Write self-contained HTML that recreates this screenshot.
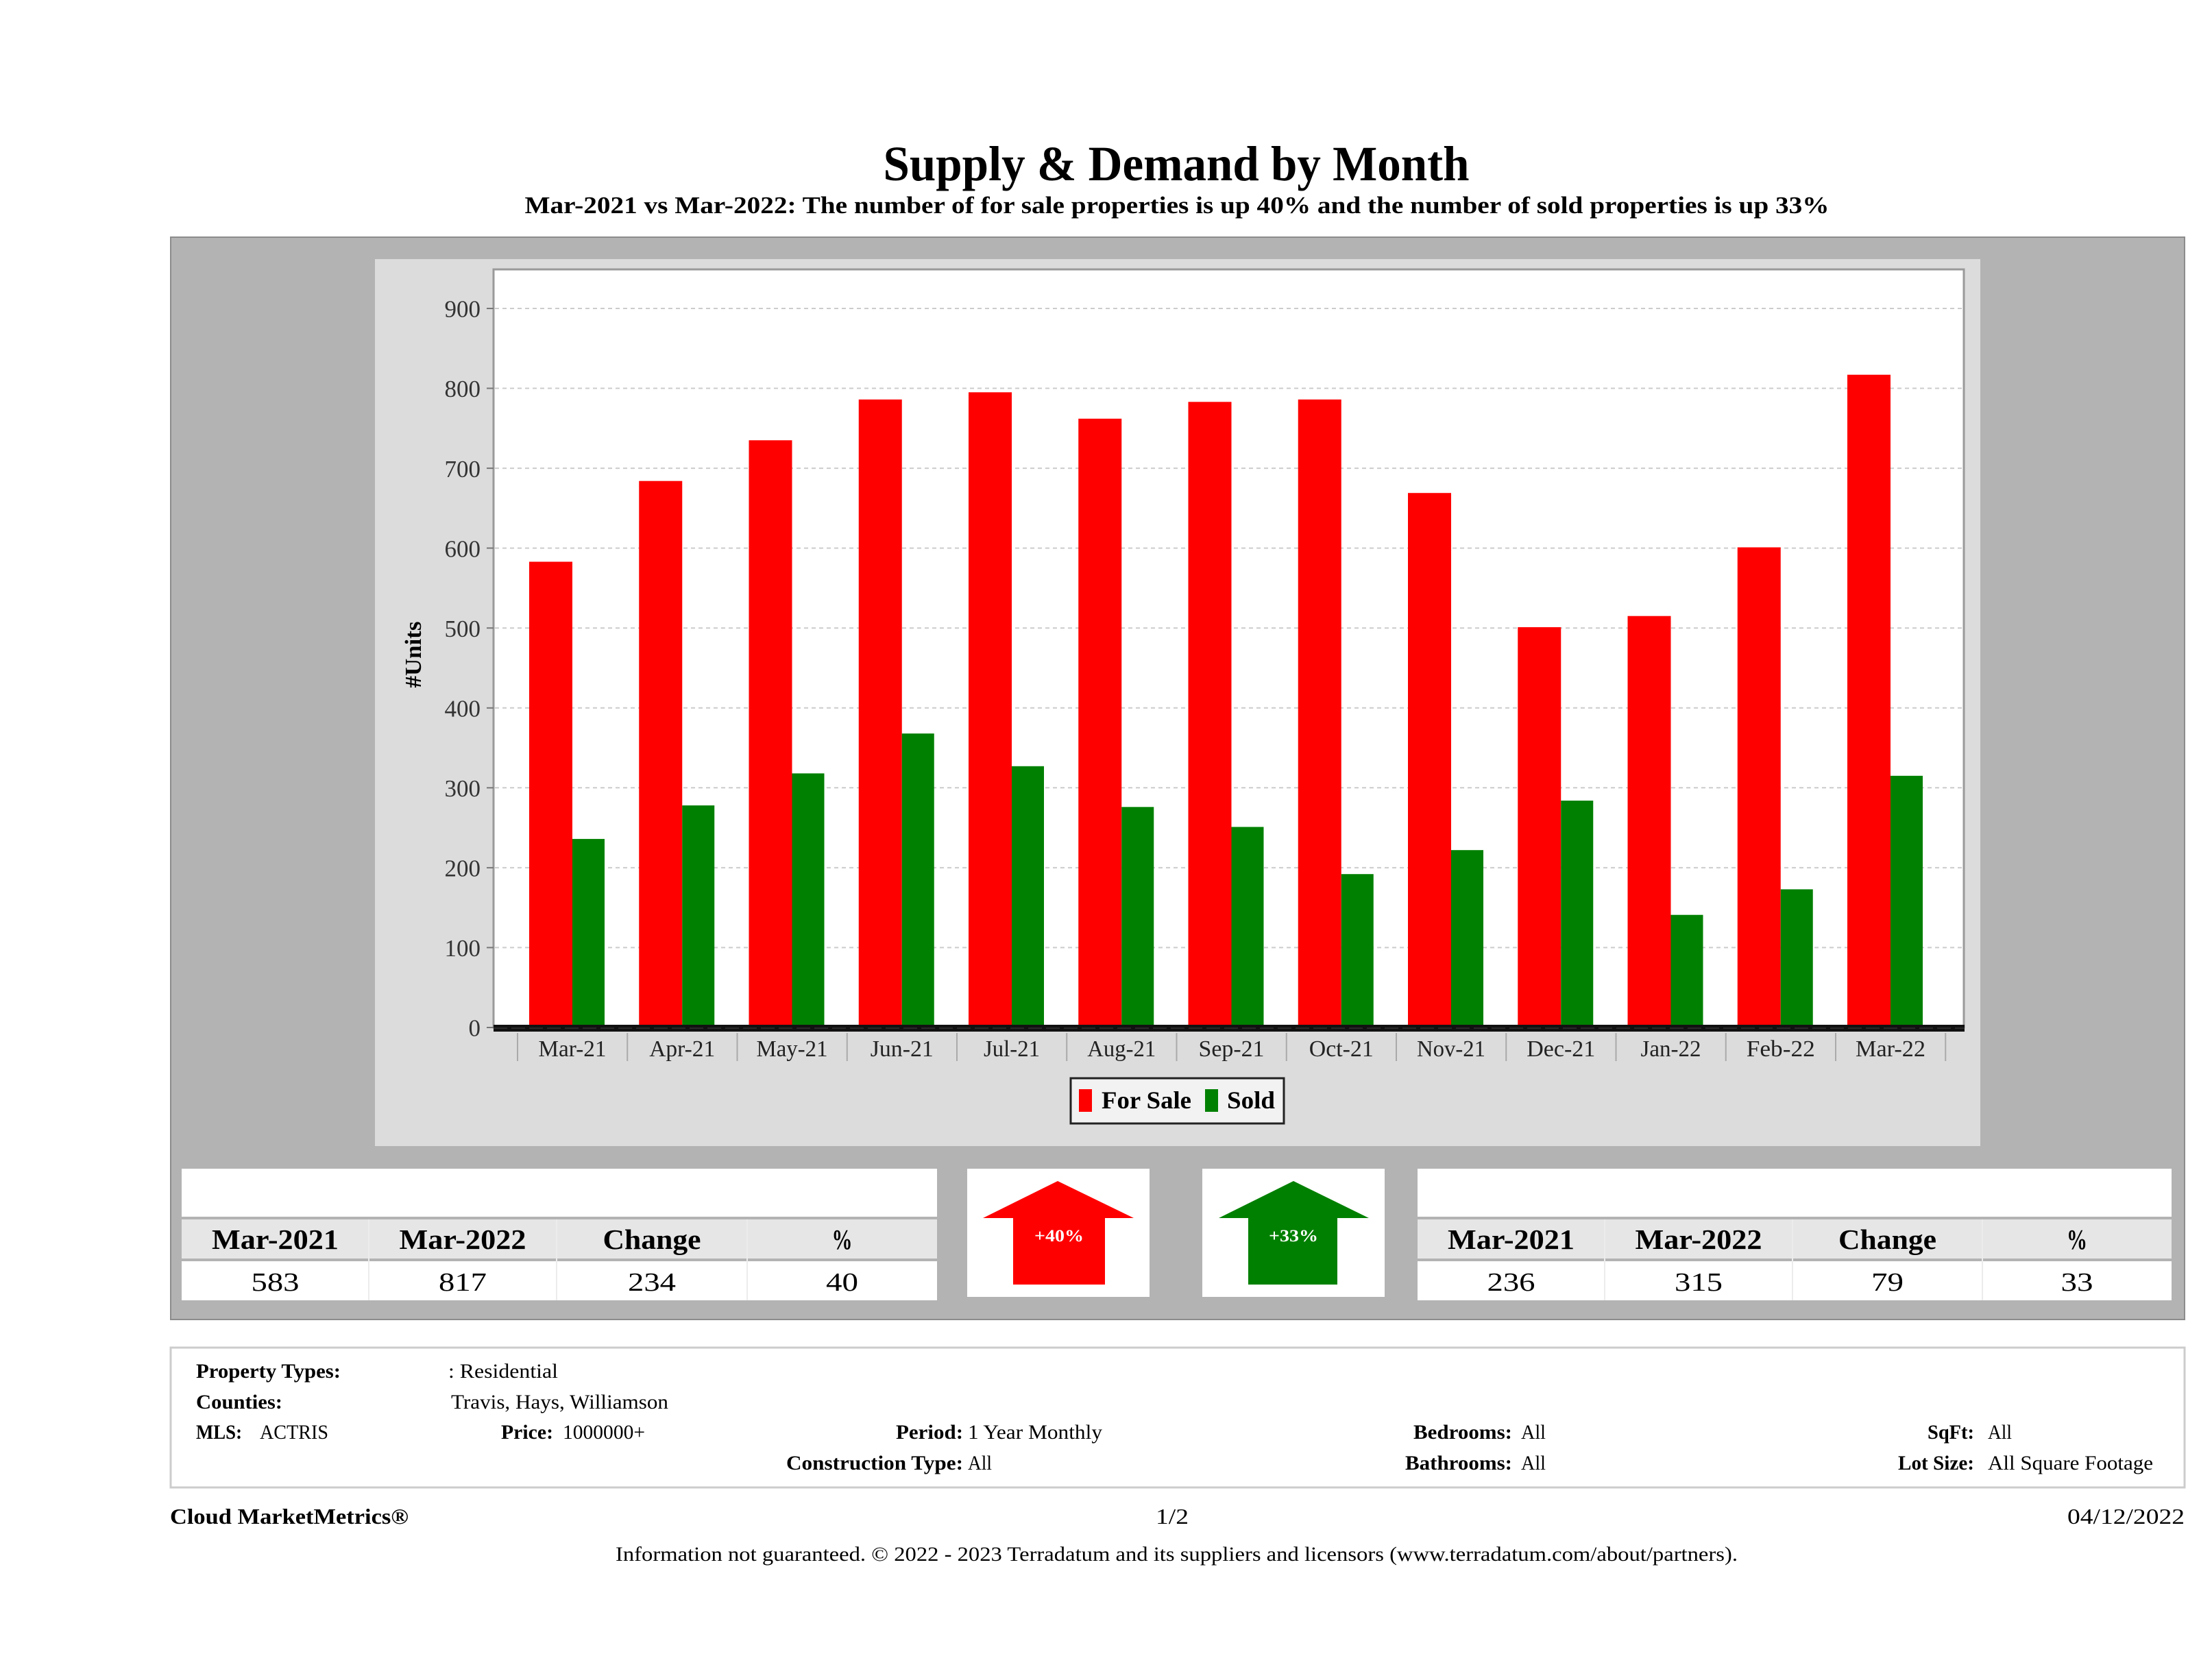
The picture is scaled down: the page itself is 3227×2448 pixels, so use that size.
<!DOCTYPE html>
<html><head><meta charset="utf-8"><style>
html,body{margin:0;padding:0;background:#fff;}
svg{display:block;}
text{font-family:"Liberation Serif","DejaVu Serif",serif;}
.b{font-weight:bold;}
.sans{font-family:"Liberation Sans","DejaVu Sans",sans-serif;}
</style></head><body>
<svg width="3227" height="2448" viewBox="0 0 3227 2448" xmlns="http://www.w3.org/2000/svg">
<rect x="0" y="0" width="3227" height="2448" fill="#fff"/>
<!-- Titles -->
<text x="1716" y="263" class="b" font-size="72" text-anchor="middle" textLength="855" lengthAdjust="spacingAndGlyphs" fill="#000">Supply &amp; Demand by Month</text>
<text x="1717" y="311" class="b" font-size="35" text-anchor="middle" textLength="1903" lengthAdjust="spacingAndGlyphs" fill="#000">Mar-2021 vs Mar-2022: The number of for sale properties is up 40% and the number of sold properties is up 33%</text>

<!-- Outer gray panel -->
<rect x="249" y="346" width="2938" height="1579" fill="#b3b3b3" stroke="#8c8c8c" stroke-width="2"/>
<!-- Inner chart panel -->
<rect x="547" y="378" width="2342" height="1294" fill="#dcdcdc"/>
<!-- Plot area -->
<rect x="720" y="393" width="2145" height="1106" fill="#fff" stroke="#9a9a9a" stroke-width="3"/>

<!-- gridlines -->
<g stroke="#cccccc" stroke-width="2" stroke-dasharray="6,5">
<line x1="722" y1="1382.4" x2="2863" y2="1382.4"/>
<line x1="722" y1="1265.9" x2="2863" y2="1265.9"/>
<line x1="722" y1="1149.3" x2="2863" y2="1149.3"/>
<line x1="722" y1="1032.8" x2="2863" y2="1032.8"/>
<line x1="722" y1="916.2" x2="2863" y2="916.2"/>
<line x1="722" y1="799.6" x2="2863" y2="799.6"/>
<line x1="722" y1="683.1" x2="2863" y2="683.1"/>
<line x1="722" y1="566.5" x2="2863" y2="566.5"/>
<line x1="722" y1="450" x2="2863" y2="450"/>
</g>
<!-- y ticks -->
<g stroke="#777" stroke-width="2">
<line x1="710" y1="1499" x2="720" y2="1499"/>
<line x1="710" y1="1382.4" x2="720" y2="1382.4"/>
<line x1="710" y1="1265.9" x2="720" y2="1265.9"/>
<line x1="710" y1="1149.3" x2="720" y2="1149.3"/>
<line x1="710" y1="1032.8" x2="720" y2="1032.8"/>
<line x1="710" y1="916.2" x2="720" y2="916.2"/>
<line x1="710" y1="799.6" x2="720" y2="799.6"/>
<line x1="710" y1="683.1" x2="720" y2="683.1"/>
<line x1="710" y1="566.5" x2="720" y2="566.5"/>
<line x1="710" y1="450" x2="720" y2="450"/>
</g>
<g class="sans" font-size="35" fill="#333" text-anchor="end">
<text x="701" y="1511.5">0</text>
<text x="701" y="1395">100</text>
<text x="701" y="1278.5">200</text>
<text x="701" y="1162">300</text>
<text x="701" y="1045.5">400</text>
<text x="701" y="929">500</text>
<text x="701" y="812.5">600</text>
<text x="701" y="696">700</text>
<text x="701" y="579">800</text>
<text x="701" y="462.5">900</text>
</g>
<text transform="translate(614,955) rotate(-90)" class="b" font-size="34" text-anchor="middle" textLength="97" lengthAdjust="spacingAndGlyphs" fill="#000">#Units</text>

<!-- bars: For Sale -->
<g fill="#ff0000">
<rect x="772" y="819.5" width="63" height="679.5"/>
<rect x="932.25" y="701.7" width="63" height="797.3"/>
<rect x="1092.5" y="642.3" width="63" height="856.7"/>
<rect x="1252.75" y="582.8" width="63" height="916.2"/>
<rect x="1413" y="572.3" width="63" height="926.7"/>
<rect x="1573.25" y="610.8" width="63" height="888.2"/>
<rect x="1733.5" y="586.3" width="63" height="912.7"/>
<rect x="1893.75" y="582.8" width="63" height="916.2"/>
<rect x="2054" y="719.2" width="63" height="779.8"/>
<rect x="2214.25" y="915" width="63" height="584"/>
<rect x="2374.5" y="898.7" width="63" height="600.3"/>
<rect x="2534.75" y="798.5" width="63" height="700.5"/>
<rect x="2695" y="546.7" width="63" height="952.3"/>
</g>
<!-- bars: Sold -->
<g fill="#008000">
<rect x="835" y="1223.9" width="47" height="275.1"/>
<rect x="995.25" y="1175" width="47" height="324"/>
<rect x="1155.5" y="1128.3" width="47" height="370.7"/>
<rect x="1315.75" y="1070.1" width="47" height="428.9"/>
<rect x="1476" y="1117.8" width="47" height="381.2"/>
<rect x="1636.25" y="1177.3" width="47" height="321.7"/>
<rect x="1796.5" y="1206.4" width="47" height="292.6"/>
<rect x="1956.75" y="1275.2" width="47" height="223.8"/>
<rect x="2117" y="1240.2" width="47" height="258.8"/>
<rect x="2277.25" y="1168" width="47" height="331"/>
<rect x="2437.5" y="1334.7" width="47" height="164.3"/>
<rect x="2597.75" y="1297.4" width="47" height="201.6"/>
<rect x="2758" y="1131.8" width="47" height="367.2"/>
</g>
<!-- thick baseline -->
<rect x="720" y="1495" width="2146" height="10" fill="#111"/>
<line x1="720" y1="1500" x2="2866" y2="1500" stroke="#444" stroke-width="1" stroke-dasharray="20,6"/>

<!-- category separators -->
<g stroke="#aaaaaa" stroke-width="2">
<line x1="755" y1="1507" x2="755" y2="1548"/>
<line x1="915.25" y1="1507" x2="915.25" y2="1548"/>
<line x1="1075.5" y1="1507" x2="1075.5" y2="1548"/>
<line x1="1235.75" y1="1507" x2="1235.75" y2="1548"/>
<line x1="1396" y1="1507" x2="1396" y2="1548"/>
<line x1="1556.25" y1="1507" x2="1556.25" y2="1548"/>
<line x1="1716.5" y1="1507" x2="1716.5" y2="1548"/>
<line x1="1876.75" y1="1507" x2="1876.75" y2="1548"/>
<line x1="2037" y1="1507" x2="2037" y2="1548"/>
<line x1="2197.25" y1="1507" x2="2197.25" y2="1548"/>
<line x1="2357.5" y1="1507" x2="2357.5" y2="1548"/>
<line x1="2517.75" y1="1507" x2="2517.75" y2="1548"/>
<line x1="2678" y1="1507" x2="2678" y2="1548"/>
<line x1="2838.25" y1="1507" x2="2838.25" y2="1548"/>
</g>
<g font-size="34" fill="#222" text-anchor="middle">
<text x="835" y="1541" textLength="99" lengthAdjust="spacingAndGlyphs">Mar-21</text>
<text x="995.25" y="1541" textLength="96" lengthAdjust="spacingAndGlyphs">Apr-21</text>
<text x="1155.5" y="1541" textLength="104" lengthAdjust="spacingAndGlyphs">May-21</text>
<text x="1315.75" y="1541" textLength="92" lengthAdjust="spacingAndGlyphs">Jun-21</text>
<text x="1476" y="1541" textLength="82" lengthAdjust="spacingAndGlyphs">Jul-21</text>
<text x="1636.25" y="1541" textLength="100" lengthAdjust="spacingAndGlyphs">Aug-21</text>
<text x="1796.5" y="1541" textLength="96" lengthAdjust="spacingAndGlyphs">Sep-21</text>
<text x="1956.75" y="1541" textLength="94" lengthAdjust="spacingAndGlyphs">Oct-21</text>
<text x="2117" y="1541" textLength="100" lengthAdjust="spacingAndGlyphs">Nov-21</text>
<text x="2277.25" y="1541" textLength="100" lengthAdjust="spacingAndGlyphs">Dec-21</text>
<text x="2437.5" y="1541" textLength="88" lengthAdjust="spacingAndGlyphs">Jan-22</text>
<text x="2597.75" y="1541" textLength="100" lengthAdjust="spacingAndGlyphs">Feb-22</text>
<text x="2758" y="1541" textLength="102" lengthAdjust="spacingAndGlyphs">Mar-22</text>
</g>

<!-- Legend -->
<rect x="1562" y="1573" width="311" height="66" fill="#f2f2f2" stroke="#222" stroke-width="3"/>
<rect x="1574" y="1589" width="19" height="33" fill="#ff0000"/>
<text x="1607" y="1617" class="b" font-size="36" textLength="131" lengthAdjust="spacingAndGlyphs" fill="#000">For Sale</text>
<rect x="1758" y="1589" width="19" height="33" fill="#008000"/>
<text x="1790" y="1617" class="b" font-size="36" textLength="70" lengthAdjust="spacingAndGlyphs" fill="#000">Sold</text>

<!-- Left stats table -->
<rect x="265" y="1705" width="1102" height="192" fill="#fff"/>
<rect x="265" y="1775" width="1102" height="4" fill="#b3b3b3"/>
<rect x="265" y="1779" width="1102" height="57" fill="#e6e6e6"/>
<rect x="265" y="1836" width="1102" height="4" fill="#b3b3b3"/>
<g stroke="#ececec" stroke-width="2">
<line x1="538" y1="1779" x2="538" y2="1897"/>
<line x1="812" y1="1779" x2="812" y2="1897"/>
<line x1="1090" y1="1779" x2="1090" y2="1897"/>
</g>
<g class="b" font-size="41" fill="#000" text-anchor="middle">
<text x="401.5" y="1822" textLength="185" lengthAdjust="spacingAndGlyphs">Mar-2021</text>
<text x="675" y="1822" textLength="185" lengthAdjust="spacingAndGlyphs">Mar-2022</text>
<text x="951" y="1822" textLength="143" lengthAdjust="spacingAndGlyphs">Change</text>
<text x="1228.5" y="1822" textLength="30" lengthAdjust="spacingAndGlyphs">%</text>
</g>
<g font-size="38" fill="#000" text-anchor="middle">
<text x="401.5" y="1883" textLength="70" lengthAdjust="spacingAndGlyphs">583</text>
<text x="675" y="1883" textLength="70" lengthAdjust="spacingAndGlyphs">817</text>
<text x="951" y="1883" textLength="70" lengthAdjust="spacingAndGlyphs">234</text>
<text x="1228.5" y="1883" textLength="47" lengthAdjust="spacingAndGlyphs">40</text>
</g>

<!-- Red arrow -->
<rect x="1411" y="1705" width="266" height="187" fill="#fff"/>
<polygon points="1543,1723 1654,1777 1612,1777 1612,1874 1478,1874 1478,1777 1434,1777" fill="#ff0000"/>
<text x="1545" y="1811" class="b" font-size="25" fill="#fff" text-anchor="middle" textLength="72" lengthAdjust="spacingAndGlyphs">+40%</text>

<!-- Green arrow -->
<rect x="1754" y="1705" width="266" height="187" fill="#fff"/>
<polygon points="1887,1723 1997,1777 1951,1777 1951,1874 1821,1874 1821,1777 1778,1777" fill="#008000"/>
<text x="1887" y="1811" class="b" font-size="25" fill="#fff" text-anchor="middle" textLength="72" lengthAdjust="spacingAndGlyphs">+33%</text>

<!-- Right stats table -->
<rect x="2068" y="1705" width="1100" height="192" fill="#fff"/>
<rect x="2068" y="1775" width="1100" height="4" fill="#b3b3b3"/>
<rect x="2068" y="1779" width="1100" height="57" fill="#e6e6e6"/>
<rect x="2068" y="1836" width="1100" height="4" fill="#b3b3b3"/>
<g stroke="#ececec" stroke-width="2">
<line x1="2341" y1="1779" x2="2341" y2="1897"/>
<line x1="2615" y1="1779" x2="2615" y2="1897"/>
<line x1="2892" y1="1779" x2="2892" y2="1897"/>
</g>
<g class="b" font-size="41" fill="#000" text-anchor="middle">
<text x="2204.5" y="1822" textLength="185" lengthAdjust="spacingAndGlyphs">Mar-2021</text>
<text x="2478" y="1822" textLength="185" lengthAdjust="spacingAndGlyphs">Mar-2022</text>
<text x="2753.5" y="1822" textLength="143" lengthAdjust="spacingAndGlyphs">Change</text>
<text x="3030" y="1822" textLength="30" lengthAdjust="spacingAndGlyphs">%</text>
</g>
<g font-size="38" fill="#000" text-anchor="middle">
<text x="2204.5" y="1883" textLength="70" lengthAdjust="spacingAndGlyphs">236</text>
<text x="2478" y="1883" textLength="70" lengthAdjust="spacingAndGlyphs">315</text>
<text x="2753.5" y="1883" textLength="47" lengthAdjust="spacingAndGlyphs">79</text>
<text x="3030" y="1883" textLength="47" lengthAdjust="spacingAndGlyphs">33</text>
</g>

<!-- Info box -->
<rect x="249" y="1966" width="2938" height="204" fill="#fff" stroke="#cccccc" stroke-width="3"/>
<g font-size="30" fill="#000">
<text x="286" y="2010" class="b" textLength="211" lengthAdjust="spacingAndGlyphs">Property Types:</text>
<text x="654" y="2010" textLength="160" lengthAdjust="spacingAndGlyphs">: Residential</text>
<text x="286" y="2055" class="b" textLength="126" lengthAdjust="spacingAndGlyphs">Counties:</text>
<text x="658" y="2055" textLength="317" lengthAdjust="spacingAndGlyphs">Travis, Hays, Williamson</text>
<text x="286" y="2099" class="b" textLength="67" lengthAdjust="spacingAndGlyphs">MLS:</text>
<text x="379" y="2099" textLength="100" lengthAdjust="spacingAndGlyphs">ACTRIS</text>
<text x="731" y="2099" class="b" textLength="76" lengthAdjust="spacingAndGlyphs">Price:</text>
<text x="821" y="2099" textLength="120" lengthAdjust="spacingAndGlyphs">1000000+</text>
<text x="1307" y="2099" class="b" textLength="98" lengthAdjust="spacingAndGlyphs">Period:</text>
<text x="1412" y="2099" textLength="196" lengthAdjust="spacingAndGlyphs">1 Year Monthly</text>
<text x="2062" y="2099" class="b" textLength="144" lengthAdjust="spacingAndGlyphs">Bedrooms:</text>
<text x="2219" y="2099" textLength="36" lengthAdjust="spacingAndGlyphs">All</text>
<text x="2812" y="2099" class="b" textLength="68" lengthAdjust="spacingAndGlyphs">SqFt:</text>
<text x="2900" y="2099" textLength="35" lengthAdjust="spacingAndGlyphs">All</text>
<text x="1147" y="2144" class="b" textLength="258" lengthAdjust="spacingAndGlyphs">Construction Type:</text>
<text x="1412" y="2144" textLength="35" lengthAdjust="spacingAndGlyphs">All</text>
<text x="2050" y="2144" class="b" textLength="156" lengthAdjust="spacingAndGlyphs">Bathrooms:</text>
<text x="2219" y="2144" textLength="36" lengthAdjust="spacingAndGlyphs">All</text>
<text x="2769" y="2144" class="b" textLength="111" lengthAdjust="spacingAndGlyphs">Lot Size:</text>
<text x="2900" y="2144" textLength="241" lengthAdjust="spacingAndGlyphs">All Square Footage</text>
</g>

<!-- Footer -->
<g font-size="32" fill="#000">
<text x="248" y="2223" class="b" textLength="348" lengthAdjust="spacingAndGlyphs">Cloud MarketMetrics®</text>
<text x="1686" y="2223" textLength="48" lengthAdjust="spacingAndGlyphs">1/2</text>
<text x="3016" y="2223" textLength="171" lengthAdjust="spacingAndGlyphs">04/12/2022</text>
</g>
<text x="898" y="2277" font-size="30" fill="#000" textLength="1637" lengthAdjust="spacingAndGlyphs">Information not guaranteed. © 2022 - 2023 Terradatum and its suppliers and licensors (www.terradatum.com/about/partners).</text>
</svg>
</body></html>
